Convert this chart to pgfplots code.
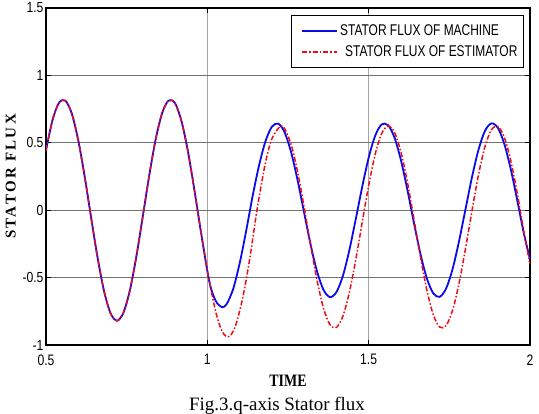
\documentclass[border=0pt]{standalone}
\usepackage{fontspec}
\setmainfont{Liberation Serif}
\newfontfamily\arial{Liberation Sans}
\usepackage{graphicx}
\usepackage{pgfplots}
\pgfplotsset{compat=1.18}
\definecolor{mblue}{RGB}{10,10,235}
\definecolor{mred}{RGB}{240,10,20}
\begin{document}
\begin{tikzpicture}
\useasboundingbox (0,0) rectangle (539bp,414bp);
\begin{axis}[
  at={(46bp,69bp)}, anchor=south west,
  width=484bp, height=337bp, scale only axis,
  xmin=0.5, xmax=2, ymin=-1, ymax=1.5,
  xtick={0.5,1,1.5,2}, ytick={-1,-0.5,0,0.5,1,1.5},
  grid=major,
  x grid style={color=black!35, line width=1bp},
  y grid style={color=black!55, line width=0.6bp},
  axis line style={line width=1.2bp},
  tick align=inside, major tick length=5bp,
  tick style={black, line width=0.8bp},
  /pgf/number format/assume math mode=true,
  ticklabel style={font=\arial\fontsize{12.2}{14}\selectfont},
  xticklabel={\scalebox{1}[1.25]{\pgfmathprintnumber{\tick}}},
  yticklabel={\scalebox{1}[1.2]{\pgfmathprintnumber{\tick}}},
  xticklabel style={yshift=-6bp},
  yticklabel style={xshift=1bp},
  xlabel={\fontsize{14}{16}\selectfont\bfseries\scalebox{1}[1.25]{TIME}},
  xlabel style={yshift=-3bp},
  ylabel={\fontsize{15}{17}\selectfont\bfseries\addfontfeatures{LetterSpace=16}STATOR FLUX},
  legend style={at={(rel axis cs:1,1)}, anchor=north east, xshift=-6bp, yshift=-7bp,
    font=\arial\fontsize{12}{14}\selectfont, draw=black, line width=1.2bp,
    inner xsep=4bp, inner ysep=7bp, row sep=5bp, fill=white},
  legend cell align=left,
]
\addplot[mblue, line width=1.8bp, smooth,
  legend image code/.code={\path[draw=none] (-7bp,0bp) -- (0bp,0bp);\draw[mblue, line width=1.8bp] (0bp,0bp) -- (35bp,0bp);}] coordinates {
(0.50,0.444)(0.52,0.667)(0.54,0.796)(0.56,0.813)(0.58,0.716)(0.60,0.518)(0.62,0.248)(0.64,-0.057)(0.66,-0.354)(0.68,-0.601)(0.70,-0.764)(0.72,-0.820)(0.74,-0.760)(0.76,-0.594)(0.78,-0.344)(0.80,-0.046)(0.82,0.258)(0.84,0.527)(0.86,0.721)(0.88,0.814)(0.90,0.793)(0.92,0.660)(0.94,0.435)(0.96,0.149)(0.98,-0.159)
(1.00,-0.450)(1.01,-0.569)(1.02,-0.640)(1.03,-0.689)(1.046,-0.720)(1.06,-0.696)(1.08,-0.585)(1.10,-0.396)(1.12,-0.158)(1.14,0.100)(1.16,0.329)(1.18,0.510)(1.20,0.619)(1.22,0.642)(1.24,0.575)(1.26,0.427)(1.28,0.219)(1.30,-0.018)(1.32,-0.254)(1.34,-0.454)(1.36,-0.591)(1.38,-0.645)(1.40,-0.608)(1.42,-0.488)(1.44,-0.298)(1.46,-0.066)(1.48,0.173)(1.50,0.390)(1.52,0.551)(1.54,0.636)(1.56,0.631)(1.58,0.539)(1.60,0.371)(1.62,0.151)(1.64,-0.091)(1.66,-0.319)(1.68,-0.503)(1.70,-0.616)(1.72,-0.643)(1.74,-0.581)(1.76,-0.437)(1.78,-0.231)(1.80,0.006)(1.82,0.243)(1.84,0.445)(1.86,0.586)(1.88,0.644)(1.90,0.612)(1.92,0.495)(1.94,0.309)(1.96,0.079)(1.98,-0.161)(2.00,-0.365)
};
\addlegendentry{\scalebox{1}[1.3]{STATOR FLUX OF MACHINE}}
\addplot[mred, line width=1.5bp, smooth, dash pattern=on 5bp off 2bp on 1.5bp off 2bp,
  legend image code/.code={\path[draw=none] (-7bp,0bp) -- (0bp,0bp);\draw[mred, line width=1.5bp, dash pattern=on 5bp off 2bp on 1.5bp off 2bp] (0bp,0bp) -- (35bp,0bp);}] coordinates {
(0.50,0.444)(0.52,0.667)(0.54,0.796)(0.56,0.813)(0.58,0.716)(0.60,0.518)(0.62,0.248)(0.64,-0.057)(0.66,-0.354)(0.68,-0.601)(0.70,-0.764)(0.72,-0.820)(0.74,-0.760)(0.76,-0.594)(0.78,-0.344)(0.80,-0.046)(0.82,0.258)(0.84,0.527)(0.86,0.721)(0.88,0.814)(0.90,0.793)(0.92,0.660)(0.94,0.435)(0.96,0.149)(0.98,-0.159)
(1.00,-0.450)(1.01,-0.572)(1.02,-0.690)(1.03,-0.790)(1.04,-0.866)(1.05,-0.916)(1.063,-0.940)(1.075,-0.919)(1.09,-0.838)(1.11,-0.646)(1.13,-0.382)(1.15,-0.060)(1.16,0.090)(1.18,0.350)(1.20,0.530)(1.227,0.625)(1.24,0.603)(1.26,0.485)(1.28,0.282)(1.30,0.022)(1.32,-0.258)(1.34,-0.520)(1.36,-0.727)(1.38,-0.849)(1.40,-0.870)(1.42,-0.787)(1.44,-0.611)(1.46,-0.368)(1.48,-0.090)(1.50,0.183)(1.52,0.413)(1.54,0.567)(1.56,0.625)(1.58,0.578)(1.60,0.432)(1.62,0.209)(1.64,-0.061)(1.66,-0.340)(1.68,-0.589)(1.70,-0.773)(1.72,-0.867)(1.74,-0.856)(1.76,-0.743)(1.78,-0.544)(1.80,-0.286)(1.82,-0.006)(1.84,0.258)(1.86,0.468)(1.88,0.595)(1.90,0.622)(1.92,0.544)(1.94,0.372)(1.96,0.132)(1.98,-0.146)(2.00,-0.400)
};
\addlegendentry{\hspace{5bp}\scalebox{1}[1.3]{STATOR FLUX OF ESTIMATOR}}
\end{axis}
\node[anchor=base, font=\fontsize{19}{21}\selectfont] at (277bp,4bp) {Fig.3.q-axis Stator flux};
\end{tikzpicture}
\end{document}
